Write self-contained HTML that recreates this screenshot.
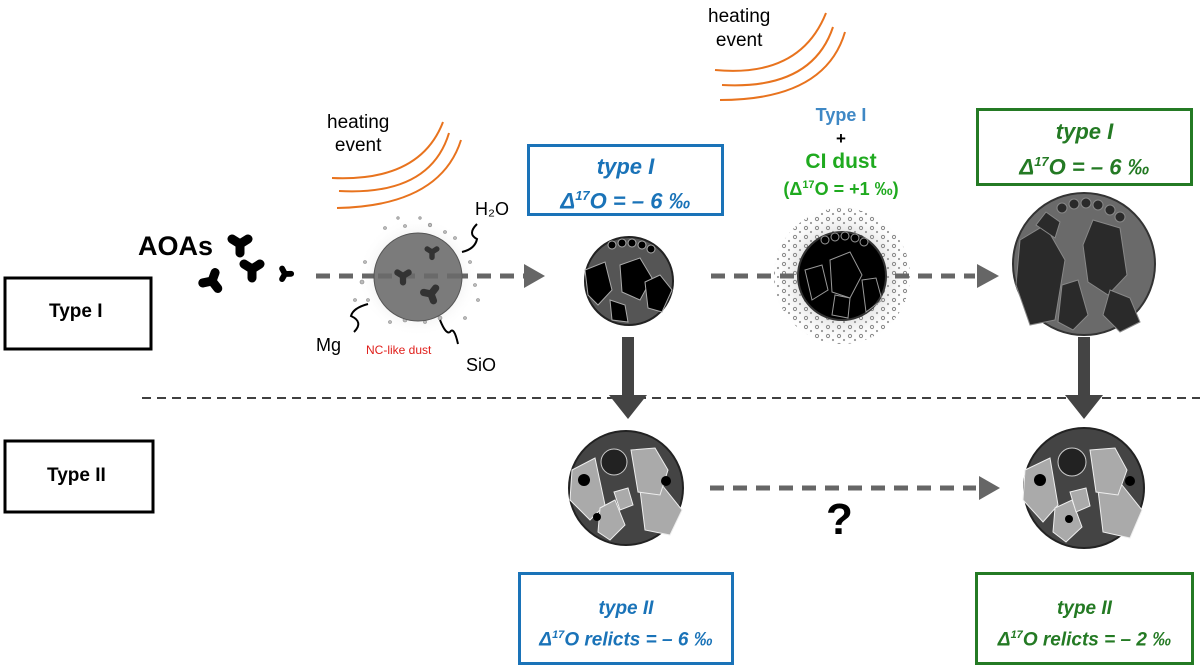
<!DOCTYPE html>
<html><head><meta charset="utf-8"><style>
body{margin:0;background:#fff;width:1200px;height:670px;overflow:hidden;position:relative;font-family:"Liberation Sans",sans-serif}
.t{position:absolute;white-space:nowrap}
.box{position:absolute;box-sizing:border-box}
</style></head><body>
<svg width="1200" height="670" style="position:absolute;left:0;top:0">
<defs>
<radialGradient id="fz"><stop offset="0.55" stop-color="#ddd"/><stop offset="1" stop-color="#fff" stop-opacity="0"/></radialGradient>
<pattern id="dots" width="11" height="9" patternUnits="userSpaceOnUse"><circle cx="3" cy="3" r="1.6" fill="none" stroke="#888"/><circle cx="8" cy="7" r="1.1" fill="#999"/></pattern>
<path id="blob" d="M-8 -5 L0 0 L8 -5 M0 0 L0 9" fill="none" stroke-width="9" stroke-linecap="round" stroke-linejoin="round"/>
</defs>
<rect x="5" y="278" width="146" height="71" fill="none" stroke="#000" stroke-width="3"/>
<rect x="5" y="441" width="148" height="71" fill="none" stroke="#000" stroke-width="3"/>
<line x1="142" y1="398" x2="1200" y2="398" stroke="#000" stroke-width="1.5" stroke-dasharray="9,6"/>
<g fill="none" stroke="#e8731e" stroke-width="2">
<path d="M332 178 Q420 182 443 122"/>
<path d="M339 191 Q430 196 449 133"/>
<path d="M337 208 Q440 206 461 140"/>
<path d="M715 70 Q800 78 826 13"/>
<path d="M722 85 Q812 90 833 27"/>
<path d="M720 100 Q825 100 845 32"/>
</g>
<g stroke="#000">
<use href="#blob" transform="translate(240,244)"/>
<use href="#blob" transform="translate(252,269)"/>
<use href="#blob" transform="translate(212,281) rotate(200)"/>
<use href="#blob" transform="translate(285,274) rotate(30) scale(0.65)"/>
</g>
<circle cx="418" cy="277" r="60" fill="url(#fz)" opacity="0.7"/>
<g fill="#bbb" stroke="#888" stroke-width="0.6">
<circle cx="385" cy="228" r="1.5"/><circle cx="405" cy="226" r="1.5"/><circle cx="430" cy="225" r="1.8"/><circle cx="445" cy="232" r="1.5"/><circle cx="455" cy="238" r="1.5"/><circle cx="365" cy="262" r="1.5"/><circle cx="362" cy="282" r="2"/><circle cx="368" cy="300" r="1.5"/><circle cx="470" cy="262" r="1.5"/><circle cx="475" cy="285" r="1.5"/><circle cx="478" cy="300" r="1.5"/><circle cx="390" cy="322" r="1.5"/><circle cx="405" cy="320" r="2"/><circle cx="425" cy="322" r="1.5"/><circle cx="440" cy="318" r="2"/><circle cx="355" cy="300" r="1.5"/><circle cx="465" cy="318" r="1.5"/><circle cx="398" cy="218" r="1.3"/><circle cx="420" cy="218" r="1.3"/>
</g>
<circle cx="842" cy="276" r="72" fill="url(#fz)"/>
<circle cx="842" cy="276" r="68" fill="url(#dots)"/>
<g stroke="#666" stroke-width="5" stroke-dasharray="14,9">
<line x1="316" y1="276" x2="524" y2="276"/>
<line x1="711" y1="276" x2="975" y2="276"/>
<line x1="710" y1="488" x2="976" y2="488"/>
</g>
<g fill="#666">
<polygon points="524,264 545,276 524,288"/>
<polygon points="977,264 999,276 977,288"/>
<polygon points="979,476 1000,488 979,500"/>
</g>
<circle cx="418" cy="277" r="44" fill="#7b7b7b" stroke="#555"/>
<line x1="378" y1="276" x2="462" y2="276" stroke="#666" stroke-width="5" stroke-dasharray="14,9" opacity="0.8"/>
<g stroke="#333">
<use href="#blob" transform="translate(432,252) scale(0.6)"/>
<use href="#blob" transform="translate(403,276) scale(0.7)"/>
<use href="#blob" transform="translate(431,294) rotate(-20) scale(0.8)"/>
</g>
<g fill="none" stroke="#000" stroke-width="2">
<path d="M477 224 q-10 10 0 15 q-2 10 -15 13"/>
<path d="M354 332 q10 -10 -3 -16 q2 -8 17 -12"/>
<path d="M440 320 q6 15 10 12 q4 -6 8 12"/>
</g>
<circle cx="629" cy="281" r="44" fill="#555" stroke="#222" stroke-width="2"/>
<g fill="#000" stroke="#aaa"><polygon points="620,265 640,258 652,278 640,300 622,292"/><polygon points="585,270 605,262 612,290 598,305 588,295"/><polygon points="645,282 660,275 672,290 662,312 648,308"/><polygon points="610,300 625,305 628,322 612,320"/></g>
<g fill="#000" stroke="#aaa"><circle cx="612" cy="245" r="4"/><circle cx="622" cy="243" r="4"/><circle cx="632" cy="243" r="4"/><circle cx="642" cy="245" r="4"/><circle cx="651" cy="249" r="4"/></g>
<circle cx="842" cy="276" r="44" fill="#000" stroke="#333" stroke-width="2"/>
<g fill="none" stroke="#999"><polygon points="830,260 850,252 862,275 850,298 832,292"/><polygon points="805,270 822,265 828,290 812,300"/><polygon points="862,280 876,278 882,300 866,312"/><polygon points="835,295 850,298 848,318 832,315"/></g>
<g fill="#000" stroke="#999"><circle cx="825" cy="240" r="4"/><circle cx="835" cy="237" r="4"/><circle cx="845" cy="236" r="4"/><circle cx="855" cy="238" r="4"/><circle cx="864" cy="242" r="4"/></g>
<circle cx="1084" cy="264" r="71" fill="#6a6a6a" stroke="#333" stroke-width="2"/>
<g fill="#2a2a2a" stroke="#888"><polygon points="1020,240 1045,225 1065,260 1055,320 1030,325 1016,285"/><polygon points="1093,220 1120,228 1127,275 1108,295 1088,282 1083,245"/><polygon points="1062,285 1078,280 1088,315 1073,330 1058,322"/><polygon points="1110,290 1130,298 1140,322 1120,332 1103,315"/><polygon points="1036,225 1046,212 1060,222 1055,238"/></g>
<g fill="#2a2a2a" stroke="#888"><circle cx="1062" cy="208" r="5"/><circle cx="1074" cy="204" r="5"/><circle cx="1086" cy="203" r="5"/><circle cx="1098" cy="205" r="5"/><circle cx="1110" cy="210" r="5"/><circle cx="1120" cy="217" r="5"/></g>
<rect x="622" y="337" width="12" height="60" fill="#444"/>
<polygon points="609,395 647,395 628,419" fill="#444"/>
<rect x="1078" y="337" width="12" height="60" fill="#444"/>
<polygon points="1065,395 1103,395 1084,419" fill="#444"/>
<circle cx="626" cy="488" r="57" fill="#444" stroke="#222" stroke-width="2"/>
<g fill="#aaa" stroke="#eee"><polygon points="572,470 595,458 605,505 590,520 570,500"/><polygon points="640,490 662,485 682,510 670,535 645,530"/><polygon points="631,450 655,448 668,470 660,495 638,492"/><polygon points="600,508 615,500 625,525 610,540 598,532"/><polygon points="614,492 628,488 633,505 620,510"/></g>
<circle cx="614" cy="462" r="13" fill="#222" stroke="#ccc"/>
<circle cx="584" cy="480" r="6" fill="#000"/><circle cx="666" cy="481" r="5" fill="#000"/><circle cx="597" cy="517" r="4" fill="#000"/>
<circle cx="1084" cy="488" r="60" fill="#444" stroke="#222" stroke-width="2"/>
<g fill="#aaa" stroke="#eee"><polygon points="1025,470 1050,458 1058,505 1043,522 1023,500"/><polygon points="1098,490 1122,485 1142,510 1130,538 1103,532"/><polygon points="1090,450 1115,448 1127,470 1118,495 1096,492"/><polygon points="1055,508 1072,500 1082,527 1066,542 1053,532"/><polygon points="1070,492 1086,488 1090,506 1076,512"/></g>
<circle cx="1072" cy="462" r="14" fill="#222" stroke="#ccc"/>
<circle cx="1040" cy="480" r="6" fill="#000"/><circle cx="1130" cy="481" r="5" fill="#000"/><circle cx="1069" cy="519" r="4" fill="#000"/>
</svg>
<div class="t" style="left:327px;top:111px;font-size:19px;line-height:23px;text-align:center">heating<br>event</div>
<div class="t" style="left:708px;top:5px;font-size:19px;line-height:24px;text-align:center">heating<br>event</div>
<div class="t" style="left:138px;top:231px;font-size:27px;font-weight:bold">AOAs</div>
<div class="t" style="left:49px;top:301px;font-size:19px;font-weight:bold">Type I</div>
<div class="t" style="left:47px;top:465px;font-size:19px;font-weight:bold">Type II</div>
<div class="t" style="left:475px;top:199px;font-size:18px">H₂O</div>
<div class="t" style="left:316px;top:335px;font-size:18px">Mg</div>
<div class="t" style="left:366px;top:343px;font-size:12px;color:#e0201c">NC-like dust</div>
<div class="t" style="left:466px;top:355px;font-size:18px">SiO</div>
<div class="box" style="left:527px;top:144px;width:197px;height:72px;border:3px solid #1a73b8;color:#1a73b8;font-weight:bold;font-style:italic;font-size:22px;text-align:center;line-height:29px;padding-top:5px">type I<br>Δ<sup style="font-size:13px">17</sup>O = – 6 ‰</div>
<div class="t" style="left:771px;top:104px;width:140px;text-align:center;font-size:17px;font-weight:bold;line-height:23px"><span style="color:#3f88c5;font-size:18px">Type I</span><br>+<br><span style="color:#1faa1f;font-size:21px">CI dust</span><br><span style="color:#1faa1f;font-size:18px">(Δ<sup style="font-size:11px">17</sup>O = +1 ‰)</span></div>
<div class="box" style="left:976px;top:108px;width:217px;height:78px;border:3px solid #247a24;color:#247a24;font-weight:bold;font-style:italic;font-size:22px;text-align:center;line-height:30px;padding-top:6px">type I<br>Δ<sup style="font-size:13px">17</sup>O = – 6 ‰</div>
<div class="t" style="left:826px;top:495px;font-size:44px;font-weight:bold">?</div>
<div class="box" style="left:518px;top:572px;width:216px;height:93px;border:3px solid #1a73b8;color:#1a73b8;font-weight:bold;font-style:italic;font-size:19px;text-align:center;line-height:26px;padding-top:21px">type II<br>Δ<sup style="font-size:11px">17</sup>O relicts = – 6 ‰</div>
<div class="box" style="left:975px;top:572px;width:219px;height:93px;border:3px solid #247a24;color:#247a24;font-weight:bold;font-style:italic;font-size:19px;text-align:center;line-height:26px;padding-top:21px">type II<br>Δ<sup style="font-size:11px">17</sup>O relicts = – 2 ‰</div>
</body></html>
